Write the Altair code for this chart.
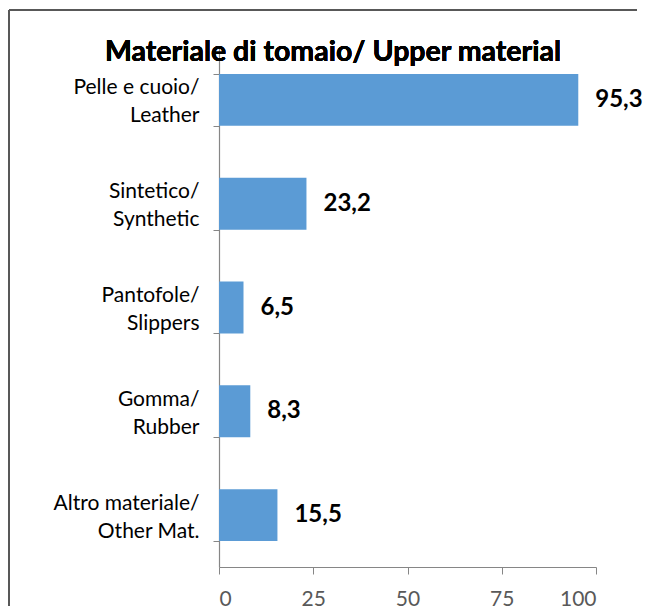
import altair as alt
import pandas as pd

categories = ["Pelle e cuoio/\nLeather", "Sintetico/\nSynthetic", "Pantofole/\nSlippers",
              "Gomma/\nRubber", "Altro materiale/\nOther Mat."]
values = [95.3, 23.2, 6.5, 8.3, 15.5]
value_labels = ["95,3", "23,2", "6,5", "8,3", "15,5"]
x_ticks = [0, 25, 50, 75, 100]
title_text = "Materiale di tomaio/ Upper material"

df = pd.DataFrame({"cat": categories, "val": values, "lab": value_labels})

FONT = "Lato"
AXIS_GRAY = "#868686"

y_enc = alt.Y("cat:N", sort=None, title=None,
              scale=alt.Scale(paddingInner=0.5, paddingOuter=0.25),
              axis=alt.Axis(labelExpr="split(datum.label, '\\n')", labelFont=FONT,
                            labelFontSize=21, labelColor="#000000", labelLineHeight=28,
                            labelPadding=14, labelOffset=-12, tickBand="extent", tickSize=6,
                            tickColor=AXIS_GRAY, domainColor=AXIS_GRAY, domainWidth=1.2,
                            grid=False))
x_enc = alt.X("val:Q", title=None,
              scale=alt.Scale(domain=[0, 100], nice=False),
              axis=alt.Axis(values=x_ticks, labelFont=FONT, labelFontSize=21,
                            labelColor="#595959", tickSize=7, labelPadding=14,
                            tickColor=AXIS_GRAY, domainColor=AXIS_GRAY, domainWidth=1.2,
                            grid=False))

bars = alt.Chart(df).mark_bar(color="#5B9BD5").encode(x=x_enc, y=y_enc)
texts = alt.Chart(df).mark_text(align="left", dx=17, font=FONT, fontSize=24,
                                fontWeight="bold", color="#000000").encode(
    x="val:Q", y=alt.Y("cat:N", sort=None), text="lab:N")

frame_left = alt.Chart(df).mark_rule(color="#595959", strokeWidth=1.5).encode(
    x=alt.value(-210), y=alt.value(-38), y2=alt.value(558))
frame_top = alt.Chart(df).mark_rule(color="#595959", strokeWidth=1.5).encode(
    x=alt.value(-210), x2=alt.value(418), y=alt.value(-38))

title = alt.Chart(df).mark_text(font=FONT, fontSize=28.5, fontWeight="bold",
                                color="#000000", align="center", baseline="alphabetic").encode(
    x=alt.value(114), y=alt.value(13), text=alt.value(title_text))

chart = alt.layer(frame_left, frame_top, bars, texts, title).properties(
    width=377, height=519,
    autosize=alt.AutoSizeParams(type="none"),
    padding={"left": 211, "top": 40, "right": 47, "bottom": 45},
).configure(background="white").configure_view(strokeWidth=0, stroke=None).configure_axis(grid=False)

chart.save("out.html", embed_options={"renderer": "svg", "actions": False})
